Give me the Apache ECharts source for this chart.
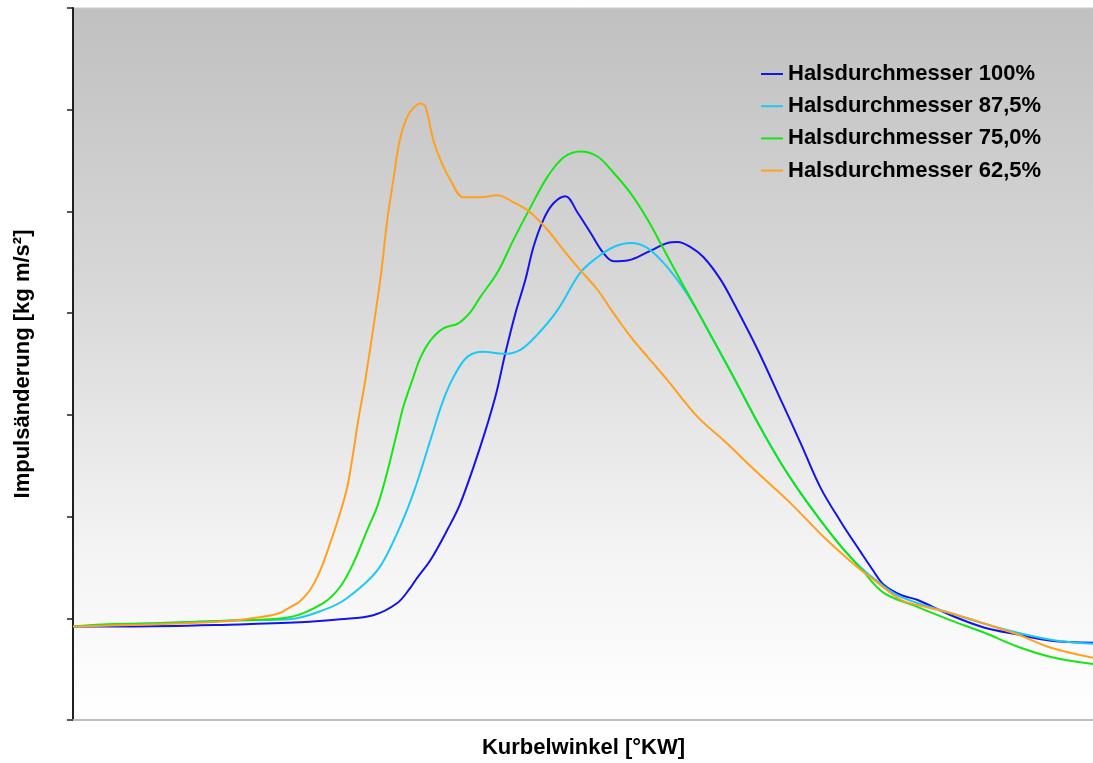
<!DOCTYPE html>
<html>
<head>
<meta charset="utf-8">
<script src="https://cdn.jsdelivr.net/npm/echarts@6/dist/echarts.min.js"></script>
<style>html,body{margin:0;padding:0;background:#fff;}#c{width:1093px;height:763px;}</style>
</head>
<body>
<div id="c"></div>
<script>
var seriesNames = ['Halsdurchmesser 100%','Halsdurchmesser 87,5%','Halsdurchmesser 75,0%','Halsdurchmesser 62,5%'];
var xAxisName = 'Kurbelwinkel [°KW]';
var yAxisName = 'Impulsänderung [kg m/s²]';

var d100 = [[0,0.92],[52,0.92],[166,0.94],[227,0.96],[267,0.99],[300,1.03],[324,1.15],[337,1.30],[344,1.40],[357,1.57],[374,1.87],[387,2.13],[407,2.69],[422,3.18],[432,3.61],[442,4.00],[452,4.33],[460,4.65],[470,4.92],[480,5.08],[492,5.15],[504,4.99],[517,4.79],[530,4.59],[540,4.51],[555,4.52],[574,4.60],[594,4.69],[604,4.70],[617,4.65],[630,4.55],[647,4.33],[660,4.10],[684,3.64],[707,3.15],[727,2.72],[747,2.28],[767,1.95],[787,1.65],[800,1.46],[810,1.33],[827,1.23],[844,1.18],[877,1.03],[910,0.91],[944,0.84],[977,0.78],[1020,0.76]];

var d875 = [[0,0.92],[82,0.95],[166,0.98],[216,0.99],[250,1.08],[274,1.20],[304,1.47],[324,1.84],[340,2.23],[357,2.75],[369,3.12],[380,3.37],[394,3.57],[410,3.62],[430,3.60],[447,3.64],[464,3.79],[484,4.03],[507,4.40],[524,4.55],[540,4.65],[557,4.69],[574,4.64],[594,4.45],[614,4.18],[640,3.73],[660,3.37],[687,2.87],[707,2.53],[727,2.23],[747,1.96],[767,1.71],[787,1.50],[804,1.36],[827,1.21],[877,1.05],[927,0.90],[977,0.79],[1020,0.75]];

var d750 = [[0,0.92],[29,0.94],[82,0.95],[166,0.98],[216,1.01],[250,1.15],[267,1.31],[280,1.54],[294,1.87],[304,2.10],[314,2.44],[324,2.84],[330,3.08],[340,3.37],[347,3.56],[357,3.73],[370,3.85],[385,3.90],[397,4.01],[407,4.16],[424,4.40],[440,4.72],[457,5.04],[474,5.34],[490,5.53],[507,5.59],[524,5.54],[540,5.38],[557,5.18],[574,4.92],[590,4.63],[607,4.32],[624,4.02],[640,3.73],[660,3.37],[687,2.87],[707,2.53],[727,2.23],[747,1.96],[767,1.71],[787,1.49],[810,1.25],[844,1.11],[877,0.98],[910,0.86],[944,0.72],[977,0.62],[1020,0.55]];

var d625 = [[0,0.92],[112,0.95],[152,0.97],[186,1.01],[206,1.05],[217,1.11],[226,1.16],[237,1.28],[247,1.47],[257,1.74],[267,2.04],[274,2.29],[280,2.63],[285,2.95],[292,3.34],[307,4.33],[314,4.92],[320,5.31],[325,5.63],[330,5.83],[337,5.98],[347,6.06],[352,6.03],[360,5.70],[367,5.51],[377,5.31],[390,5.14],[407,5.14],[424,5.16],[440,5.09],[457,4.99],[474,4.82],[490,4.62],[507,4.42],[524,4.23],[540,4.00],[557,3.77],[574,3.57],[594,3.34],[624,2.98],[650,2.75],[684,2.43],[717,2.13],[750,1.80],[784,1.50],[800,1.38],[827,1.18],[844,1.13],[877,1.05],[910,0.95],[944,0.84],[977,0.71],[1020,0.61]];

var colors = ['#1414e6','#1ec8f5','#14e614','#ffa01e'];
var dataSets = [d100, d875, d750, d625];

var chart = echarts.init(document.getElementById('c'), null, {renderer:'canvas'});
var series = dataSets.map(function(d, i){
  return {
    name: seriesNames[i], type: 'line', data: d, symbol: 'none',
    smooth: 0.35, lineStyle: {width: 2, color: colors[i]}, itemStyle: {color: colors[i]}
  };
});
chart.setOption({
  animation: false,
  backgroundColor: '#ffffff',
  textStyle: {fontFamily: 'Liberation Sans, Arial, sans-serif'},
  grid: {
    left: 73, right: -1, top: 8, bottom: 43, show: true, outerBoundsMode: 'none',
    borderColor: '#c8c8c8', borderWidth: 1,
    backgroundColor: {type:'linear', x:0, y:0, x2:0, y2:1, colorStops:[
      {offset:0, color:'#c0c0c0'}, {offset:0.4, color:'#d8d8d8'}, {offset:0.75, color:'#f3f3f3'}, {offset:1, color:'#ffffff'}]}
  },
  legend: {
    orient: 'vertical', left: 760, top: 63, padding: 0, itemWidth: 22, itemHeight: 14, itemGap: 10.2,
    itemStyle: {opacity: 0},
    textStyle: {fontSize: 22, fontWeight: 'bold', color: '#000', fontFamily: 'Liberation Sans, Arial, sans-serif'},
    data: seriesNames
  },
  xAxis: {
    type: 'value', min: 0, max: 1020,
    name: xAxisName, nameLocation: 'middle', nameGap: 17,
    nameTextStyle: {fontSize: 22, fontWeight: 'bold', color: '#000'},
    axisLine: {show: true, lineStyle: {color: '#bdbdbd', width: 2}},
    axisTick: {show: false}, axisLabel: {show: false}, splitLine: {show: false}
  },
  yAxis: {
    type: 'value', min: 0, max: 7, interval: 1,
    name: yAxisName, nameLocation: 'middle', nameGap: 39, nameRotate: 90,
    nameTextStyle: {fontSize: 22, fontWeight: 'bold', color: '#000'},
    axisLine: {show: true, lineStyle: {color: '#202020', width: 2}},
    axisTick: {show: true, length: 6, lineStyle: {color: '#202020', width: 1.5}},
    axisLabel: {show: false}, splitLine: {show: false}
  },
  series: series
});
</script>
</body>
</html>
